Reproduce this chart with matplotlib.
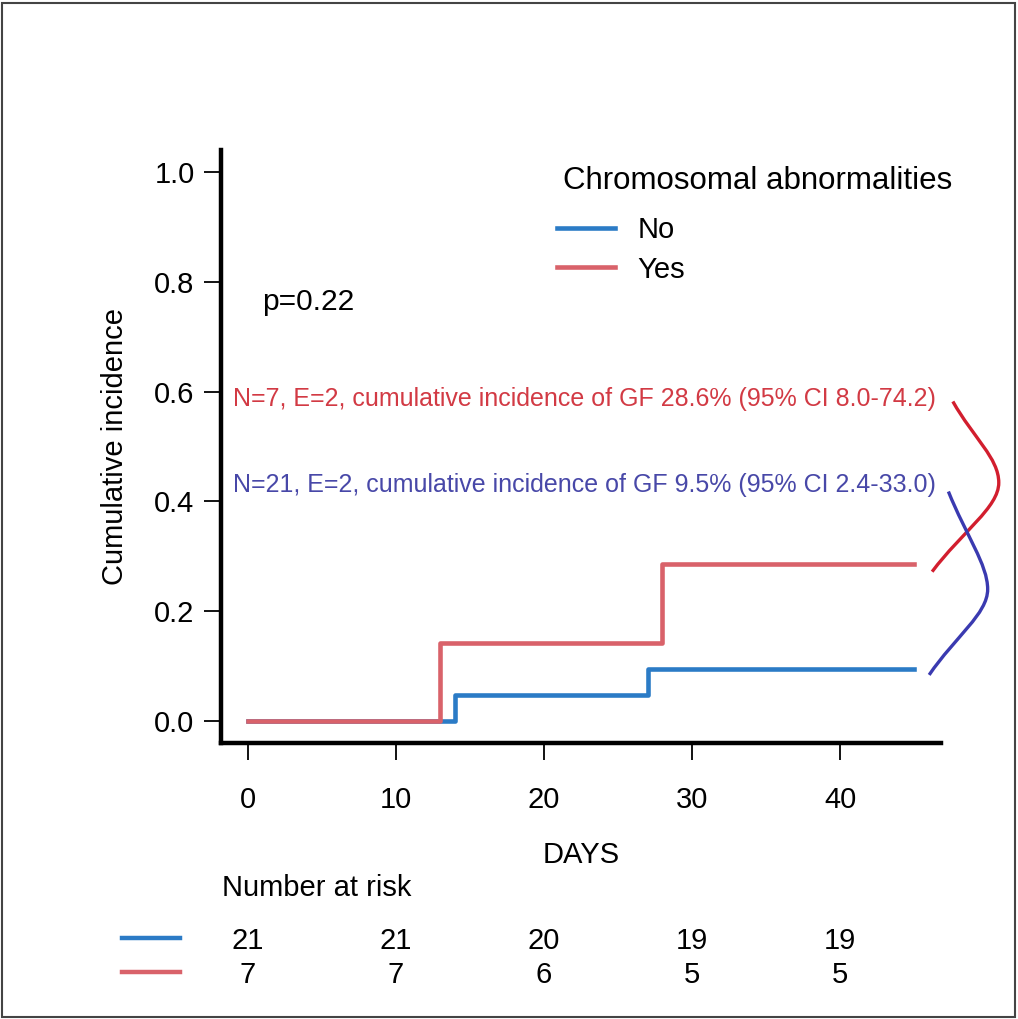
"""Cumulative incidence of graft failure by chromosomal abnormalities."""

import matplotlib

matplotlib.use("Agg")
import matplotlib.pyplot as plt
from matplotlib.patches import PathPatch, Rectangle
from matplotlib.path import Path
from matplotlib.transforms import blended_transform_factory

plt.rcParams["font.family"] = ["Liberation Sans", "DejaVu Sans"]

# step curves (days, cumulative incidence)
days_no = [0, 14, 27, 45]
inc_no = [0.0, 0.048, 0.095, 0.095]
days_yes = [0, 13, 28, 45]
inc_yes = [0.0, 0.143, 0.286, 0.286]

groups = ["No", "Yes"]
risk_times = [0, 10, 20, 30, 40]
risk_no = [21, 21, 20, 19, 19]
risk_yes = [7, 7, 6, 5, 5]

note_no = "N=21, E=2, cumulative incidence of GF 9.5% (95% CI 2.4-33.0)"
note_yes = "N=7, E=2, cumulative incidence of GF 28.6% (95% CI 8.0-74.2)"
p_text = "p=0.22"

col_no = "#2b7bc6"
col_yes = "#d9626a"
col_note_no = "#4848a8"
col_note_yes = "#d23a44"
col_brace_no = "#3a3ab0"
col_brace_yes = "#d21e2e"

W, H = 1018, 1019
fig = plt.figure(figsize=(W / 100, H / 100), dpi=100)
ax = fig.add_axes([221 / W, 1 - 743 / H, 720 / W, 593 / H])

line_no, = ax.plot(days_no, inc_no, drawstyle="steps-post", color=col_no, lw=3.3,
                   label=groups[0])
line_yes, = ax.plot(days_yes, inc_yes, drawstyle="steps-post", color=col_yes, lw=3.3,
                    label=groups[1])

ax.set_xlim(-1.8, 46.8)
ax.set_ylim(-0.04, 1.04)
ax.set_xticks(risk_times)
ax.set_yticks([0, 0.2, 0.4, 0.6, 0.8, 1.0])
ax.set_yticklabels(["0.0", "0.2", "0.4", "0.6", "0.8", "1.0"])
ax.tick_params(labelsize=21, length=12, width=1.3)
ax.tick_params(axis="y", pad=7)
ax.tick_params(axis="x", pad=19)
for side in ("top", "right"):
    ax.spines[side].set_visible(False)
for side in ("left", "bottom"):
    ax.spines[side].set_linewidth(3.2)
    ax.spines[side].set_capstyle("projecting")

ax.set_xlabel("DAYS", fontsize=21)
ax.xaxis.set_label_coords(0.5, -0.165)
ax.set_ylabel("Cumulative incidence", fontsize=21)
ax.yaxis.set_label_coords(-0.128, 0.5)

# legend, upper right, title drawn as its own text
fig.text(563 / W, 1 - 181 / H, "Chromosomal abnormalities", fontsize=22.5,
         va="center", ha="left")
ax.legend([line_no, line_yes], groups, frameon=False, fontsize=21,
          handlelength=2.0, handletextpad=0.75, labelspacing=0.38,
          borderpad=0, borderaxespad=0, loc="center left",
          bbox_to_anchor=(557 / W, 1 - 250 / H), bbox_transform=fig.transFigure)

ax.text(1.0, 0.763, p_text, fontsize=21.5, va="center", ha="left")

# annotations with curved connectors
ax.text(-1.0, 0.586, note_yes, color=col_note_yes, fontsize=18, va="center", ha="left",
        clip_on=False)
ax.text(-1.0, 0.43, note_no, color=col_note_no, fontsize=18, va="center", ha="left",
        clip_on=False)


def brace(start, apex, end, color):
    dy = 0.045
    verts = [start,
             (start[0] + 0.45 * (apex[0] - start[0]), start[1] + 0.45 * (apex[1] - start[1])),
             (apex[0], apex[1] + dy),
             apex,
             (apex[0], apex[1] - dy),
             (end[0] + 0.45 * (apex[0] - end[0]), end[1] + 0.45 * (apex[1] - end[1])),
             end]
    codes = [Path.MOVETO] + [Path.CURVE4] * 6
    ax.add_patch(PathPatch(Path(verts, codes), fill=False, edgecolor=color, lw=2.4,
                           clip_on=False))


brace((47.6, 0.582), (50.7, 0.434), (46.2, inc_yes[-1] - 0.014), col_brace_yes)
brace((47.3, 0.418), (49.95, 0.24), (46.0, inc_no[-1] - 0.011), col_brace_no)

# number at risk table
tr = blended_transform_factory(ax.transData, fig.transFigure)
fig.text(222 / W, 1 - 888 / H, "Number at risk", fontsize=21, va="center", ha="left")
for row_y, vals, col in [(941, risk_no, col_no), (975, risk_yes, col_yes)]:
    fig.add_artist(plt.Line2D([122 / W, 180 / W], [1 - (row_y - 3) / H] * 2, color=col,
                              lw=3.2, transform=fig.transFigure))
    for t, n in zip(risk_times, vals):
        fig.text(t, 1 - row_y / H, str(n), fontsize=21, va="center", ha="center",
                 transform=tr)

# outer frame
fig.add_artist(Rectangle((0.002, 0.002), 0.995, 0.995, transform=fig.transFigure,
                         fill=False, edgecolor="#444444", lw=1.5))

fig.savefig("out.png", dpi=100)
